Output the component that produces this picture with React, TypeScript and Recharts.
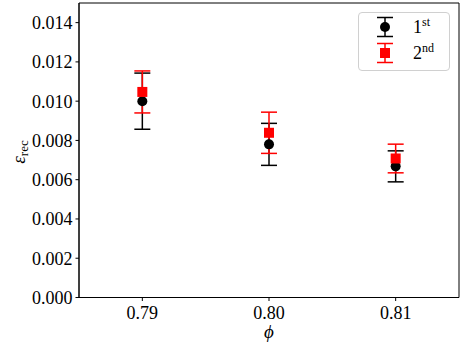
import {
  ScatterChart,
  Scatter,
  XAxis,
  YAxis,
  ErrorBar,
  Legend,
  Label,
  ReferenceArea,
} from "recharts";

const phi = [0.79, 0.8, 0.81];
const firstVals = [0.01, 0.0078, 0.00668];
const firstErr = [0.00143, 0.00107, 0.00079];
const secondVals = [0.01047, 0.00839, 0.00708];
const secondErr = [0.00107, 0.00105, 0.00073];
const seriesNames = ["1", "2"];
const seriesSups = ["st", "nd"];
const xTicks = [0.79, 0.8, 0.81];
const yTicks = [0, 0.002, 0.004, 0.006, 0.008, 0.01, 0.012, 0.014];

const firstData = phi.map((x, i) => ({ x, y: firstVals[i], err: firstErr[i] }));
const secondData = phi.map((x, i) => ({ x, y: secondVals[i], err: secondErr[i] }));

const FONT = "'Liberation Serif', 'DejaVu Serif', serif";

const BlackDot = (p: any) => <circle cx={p.cx} cy={p.cy} r={5} fill="#000" />;
const RedSquare = (p: any) => (
  <rect x={p.cx - 5} y={p.cy - 5} width={10} height={10} fill="#ff0000" />
);

const LegendBox = () => (
  <div
    style={{
      width: 92,
      height: 59,
      border: "1px solid #d0d0d0",
      borderRadius: 4,
      background: "rgba(255,255,255,0.8)",
      boxSizing: "border-box",
    }}
  >
    <svg width={90} height={57} style={{ display: "block" }}>
      {seriesNames.map((name, i) => {
        const cy = i === 0 ? 14 : 40;
        const color = i === 0 ? "#000" : "#ff0000";
        return (
          <g key={name}>
            <line x1={26} y1={cy - 9.5} x2={26} y2={cy + 9.5} stroke={color} strokeWidth={1.5} />
            <line x1={18} y1={cy - 9.5} x2={34} y2={cy - 9.5} stroke={color} strokeWidth={1.5} />
            <line x1={18} y1={cy + 9.5} x2={34} y2={cy + 9.5} stroke={color} strokeWidth={1.5} />
            {i === 0 ? (
              <circle cx={26} cy={cy} r={5} fill={color} />
            ) : (
              <rect x={21} y={cy - 5} width={10} height={10} fill={color} />
            )}
            <text x={54} y={cy + 6} fontSize={18} fill="#000">
              {name}
              <tspan fontSize={12} dy={-7}>
                {seriesSups[i]}
              </tspan>
            </text>
          </g>
        );
      })}
    </svg>
  </div>
);

const YLabel = () => (
  <text transform="rotate(-90, 25, 152)" x={25} y={152} textAnchor="middle" fill="#000">
    <tspan fontSize={19} fontStyle="italic">ε</tspan>
    <tspan fontSize={13} dy={3}>rec</tspan>
  </text>
);

const XLabel = () => (
  <text x={269} y={338} textAnchor="middle" fontSize={19} fontStyle="italic" fill="#000">
    ϕ
  </text>
);

export default function App() {
  return (
    <div style={{ position: "absolute", left: 0, top: 0, background: "#fff", fontFamily: FONT }}>
      <style>{`svg text, svg tspan { font-family: ${FONT} !important; }`}</style>
      <ScatterChart
        width={469}
        height={351}
        margin={{ top: 3, right: 10, left: 0, bottom: 23.5 }}
      >
        <XAxis
          type="number"
          dataKey="x"
          domain={[0.785, 0.815]}
          ticks={xTicks}
          allowDataOverflow
          height={30}
          tickSize={3.5}
          tickMargin={5}
          tickFormatter={(v: number) => v.toFixed(2)}
          tick={{ fill: "#000", fontSize: 18, fontFamily: FONT }}
          stroke="#000"
        >
          <Label content={<XLabel />} />
        </XAxis>
        <YAxis
          type="number"
          dataKey="y"
          domain={[0, 0.015]}
          ticks={yTicks}
          allowDataOverflow
          width={79}
          tickSize={3.5}
          tickMargin={3}
          tickFormatter={(v: number) => v.toFixed(3)}
          tick={{ fill: "#000", fontSize: 18, fontFamily: FONT }}
          stroke="#000"
        >
          <Label content={<YLabel />} />
        </YAxis>
        <ReferenceArea
          x1={0.785}
          x2={0.815}
          y1={0}
          y2={0.015}
          fill="none"
          stroke="#000"
          strokeWidth={1}
          ifOverflow="visible"
        />
        <Legend
          layout="vertical"
          align="center"
          verticalAlign="middle"
          content={<LegendBox />}
          wrapperStyle={{ left: 358, top: 12, width: 92, height: 59 }}
        />
        <Scatter name="1st" data={firstData} shape={<BlackDot />} isAnimationActive={false}>
          <ErrorBar dataKey="err" direction="y" width={8} stroke="#000" strokeWidth={1.5} />
        </Scatter>
        <Scatter name="2nd" data={secondData} shape={<RedSquare />} isAnimationActive={false}>
          <ErrorBar dataKey="err" direction="y" width={8} stroke="#ff0000" strokeWidth={1.5} />
        </Scatter>
      </ScatterChart>
    </div>
  );
}
